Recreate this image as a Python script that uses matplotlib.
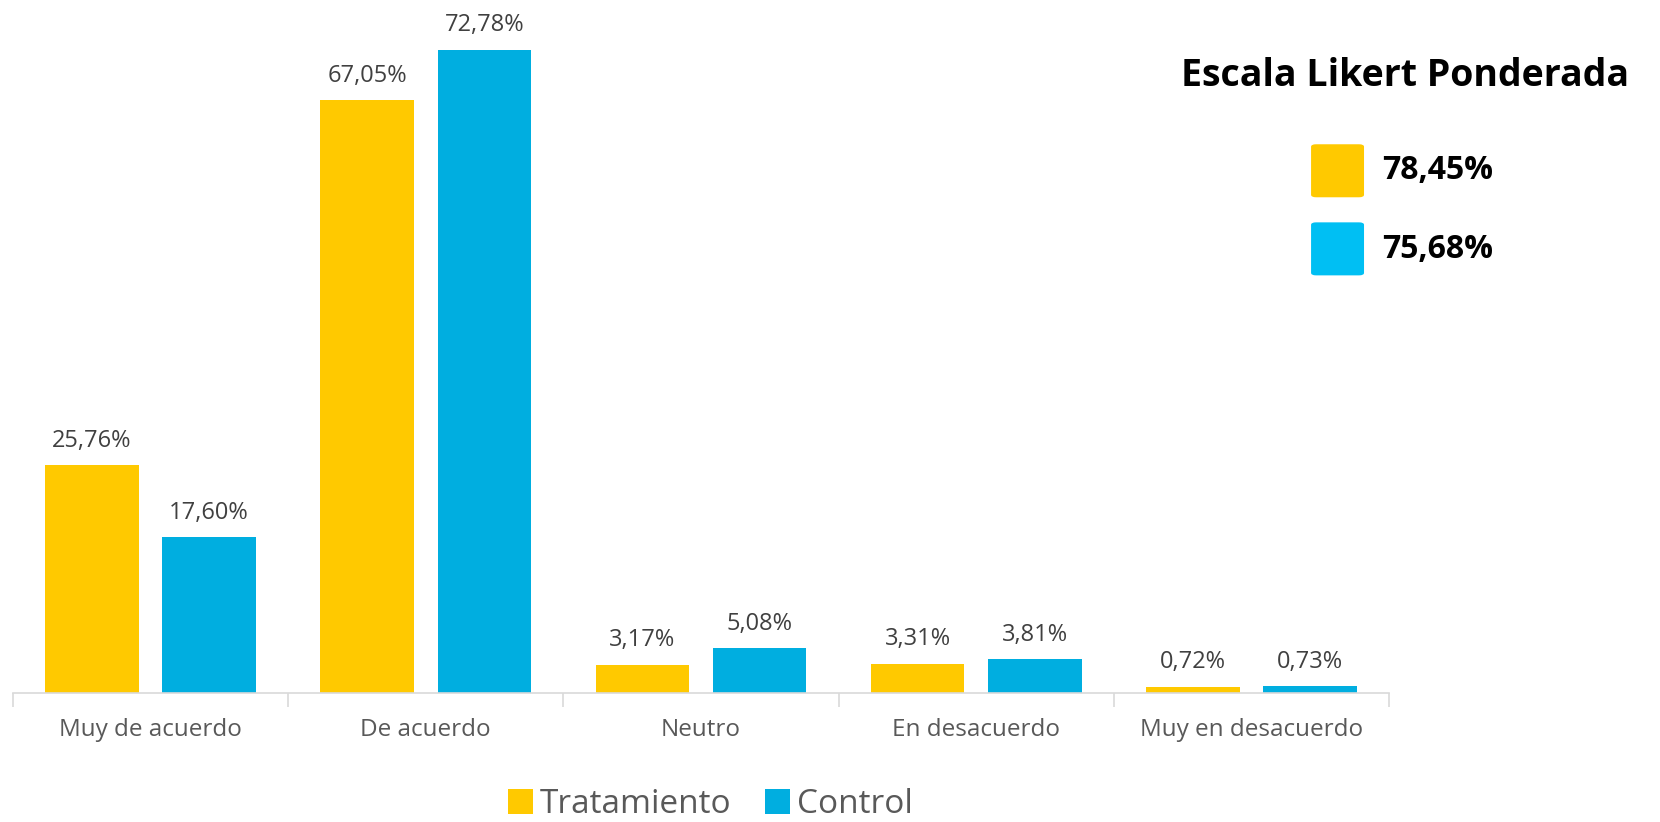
import numpy as np
import matplotlib.pyplot as plt
from matplotlib.patches import FancyBboxPatch

plt.rcParams['font.family'] = ['Open Sans', 'DejaVu Sans']

categories = ['Muy de acuerdo', 'De acuerdo', 'Neutro', 'En desacuerdo', 'Muy en desacuerdo']
tratamiento = [25.76, 67.05, 3.17, 3.31, 0.72]
control = [17.60, 72.78, 5.08, 3.81, 0.73]
series_names = ['Tratamiento', 'Control']
ponderada = [78.45, 75.68]
title_text = 'Escala Likert Ponderada'

YELLOW = '#FFC900'
BLUE = '#00AEE0'
BLUE_LIGHT = '#00BFF3'
GRAY = '#595959'


def fmt(v):
    return f'{v:.2f}'.replace('.', ',') + '%'


fig = plt.figure(figsize=(16.6, 8.22), dpi=100)
ax = fig.add_axes([0.0077, 0.157, 0.8291, 0.8066])

x = np.arange(len(categories))
w = 0.34
off = 0.213
b1 = ax.bar(x - off, tratamiento, w, color=YELLOW, label=series_names[0])
b2 = ax.bar(x + off, control, w, color=BLUE, label=series_names[1])

for bars, vals in ((b1, tratamiento), (b2, control)):
    for rect, v in zip(bars, vals):
        ax.annotate(fmt(v), (rect.get_x() + rect.get_width() / 2, v),
                    xytext=(0, 9), textcoords='offset points',
                    ha='center', va='bottom', fontsize=17, color='#404040')

ax.set_xlim(-0.5, len(categories) - 0.5)
ax.set_ylim(0, 75)
ax.set_xticks(x)
ax.set_xticklabels(categories, fontsize=17.5, color=GRAY)
ax.tick_params(axis='x', which='major', length=0, pad=18)
ax.set_xticks(np.arange(-0.5, len(categories)), minor=True)
ax.tick_params(axis='x', which='minor', length=10, color='#d9d9d9', width=1.2)
ax.set_yticks([])
for s in ['top', 'right', 'left']:
    ax.spines[s].set_visible(False)
ax.spines['bottom'].set_color('#d9d9d9')
ax.spines['bottom'].set_linewidth(1.2)

fig.legend(handles=[b1, b2], loc='center', bbox_to_anchor=(0.428, 0.021), ncol=2,
           frameon=False, fontsize=24, labelcolor=GRAY, handlelength=0.75,
           handleheight=0.75, handletextpad=0.2, columnspacing=1.0,
           borderpad=0)

# weighted Likert summary, top right
fig.text(0.8465, 0.908, title_text, fontsize=27, fontweight='bold',
         ha='center', va='center', color='black')
sq_colors = [YELLOW, BLUE_LIGHT]
sq_y = [0.76, 0.665]
for val, c, yy in zip(ponderada, sq_colors, sq_y):
    fig.patches.append(FancyBboxPatch((0.7898, yy), 0.0319, 0.0645,
                                      boxstyle='round,pad=0,rounding_size=0.003',
                                      transform=fig.transFigure, facecolor=c,
                                      edgecolor='none'))
    fig.text(0.8325, yy + 0.032, fmt(val), fontsize=23, fontweight='bold',
             ha='left', va='center', color='black')

fig.savefig('out.png', dpi=100)
